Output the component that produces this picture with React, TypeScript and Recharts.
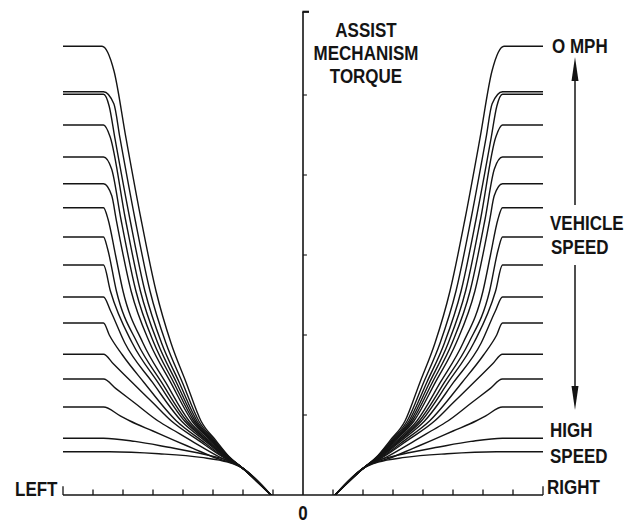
import React from 'react';
import { LineChart, Line, XAxis, YAxis, ReferenceLine } from 'recharts';

type Pt = [number, number];

// Left-hand family of torque curves (x = steering torque units, y = assist torque units)
const curve00: Pt[] = [[-8, 5.61], [-6.7, 5.61], [-6.3, 5.3], [-5.9, 4.46], [-5.4, 3.45], [-4.9, 2.55], [-4.4, 1.9], [-3.9, 1.41], [-3.4, 0.925], [-2.9, 0.68], [-2.45, 0.475], [-2.03, 0.34], [-1.07, 0]];
const curve01: Pt[] = [[-8, 5.04], [-6.65, 5.04], [-6.305, 4.89], [-6.1, 4.46], [-5.6, 3.45], [-5.1, 2.55], [-4.57, 1.9], [-4.024, 1.41], [-3.472, 0.925], [-2.942, 0.68], [-2.467, 0.475], [-2.03, 0.34], [-1.07, 0]];
const curve02: Pt[] = [[-8, 5.01], [-6.65, 5.01], [-6.46, 4.86], [-6.27, 4.46], [-5.77, 3.45], [-5.27, 2.55], [-4.715, 1.9], [-4.129, 1.41], [-3.533, 0.925], [-2.978, 0.68], [-2.481, 0.475], [-2.03, 0.34], [-1.07, 0]];
const curve03: Pt[] = [[-8, 4.625], [-6.65, 4.625], [-6.427, 4.475], [-5.92, 3.45], [-5.42, 2.55], [-4.842, 1.9], [-4.222, 1.41], [-3.587, 0.925], [-3.009, 0.68], [-2.494, 0.475], [-2.03, 0.34], [-1.07, 0]];
const curve04: Pt[] = [[-8, 4.225], [-6.65, 4.225], [-6.379, 4.075], [-6.07, 3.45], [-5.57, 2.55], [-4.97, 1.9], [-4.315, 1.41], [-3.641, 0.925], [-3.041, 0.68], [-2.507, 0.475], [-2.03, 0.34], [-1.07, 0]];
const curve05: Pt[] = [[-8, 3.89], [-6.65, 3.89], [-6.374, 3.74], [-6.23, 3.45], [-5.73, 2.55], [-5.106, 1.9], [-4.415, 1.41], [-3.699, 0.925], [-3.074, 0.68], [-2.521, 0.475], [-2.03, 0.34], [-1.07, 0]];
const curve06: Pt[] = [[-8, 3.59], [-6.65, 3.59], [-6.494, 3.44], [-6.25, 3.0], [-6.0, 2.55], [-5.335, 1.9], [-4.582, 1.41], [-3.796, 0.925], [-3.131, 0.68], [-2.544, 0.475], [-2.03, 0.34], [-1.07, 0]];
const curve07: Pt[] = [[-8, 3.225], [-6.65, 3.225], [-6.512, 3.075], [-6.22, 2.55], [-5.522, 1.9], [-4.718, 1.41], [-3.875, 0.925], [-3.177, 0.68], [-2.562, 0.475], [-2.03, 0.34], [-1.07, 0]];
const curve08: Pt[] = [[-8, 2.875], [-6.65, 2.875], [-6.42, 2.55], [-5.692, 1.9], [-4.842, 1.41], [-3.947, 0.925], [-3.219, 0.68], [-2.579, 0.475], [-2.03, 0.34], [-1.07, 0]];
const curve09: Pt[] = [[-8, 2.475], [-6.65, 2.475], [-6.413, 2.3], [-5.939, 1.9], [-5.022, 1.41], [-4.052, 0.925], [-3.28, 0.68], [-2.604, 0.475], [-2.03, 0.34], [-1.07, 0]];
const curve10: Pt[] = [[-8, 2.15], [-6.65, 2.15], [-6.457, 2.0], [-6.018, 1.75], [-5.307, 1.41], [-4.217, 0.925], [-3.377, 0.68], [-2.643, 0.475], [-2.03, 0.34], [-1.07, 0]];
const curve11: Pt[] = [[-8, 1.76], [-6.65, 1.76], [-6.323, 1.64], [-5.701, 1.41], [-4.995, 1.15], [-4.385, 0.925], [-3.472, 0.68], [-2.677, 0.475], [-2.03, 0.34], [-1.07, 0]];
const curve12: Pt[] = [[-8, 1.45], [-6.65, 1.45], [-6.235, 1.33], [-5.609, 1.15], [-4.828, 0.925], [-4.268, 0.8], [-3.73, 0.68], [-2.78, 0.475], [-2.03, 0.34], [-1.07, 0]];
const curve13: Pt[] = [[-8, 1.1], [-6.65, 1.1], [-6.092, 0.99], [-5.763, 0.925], [-5.003, 0.8], [-4.273, 0.68], [-3.649, 0.58], [-2.995, 0.475], [-2.03, 0.34], [-1.07, 0]];
const curve14: Pt[] = [[-8, 0.71], [-6.65, 0.71], [-5.6, 0.67], [-4.53, 0.6], [-3.3, 0.51], [-2.5, 0.43], [-2.03, 0.34], [-1.07, 0]];
const curve15: Pt[] = [[-8, 0.54], [-6.45, 0.54], [-4.8, 0.515], [-3.4, 0.47], [-2.5, 0.41], [-2.03, 0.34], [-1.07, 0]];

const leftCurves: Pt[][] = [curve00, curve01, curve02, curve03, curve04, curve05, curve06, curve07, curve08, curve09, curve10, curve11, curve12, curve13, curve14, curve15];

const xTicks = [-8, -7, -6, -5, -4, -3, -2, -1, 1, 2, 3, 4, 5, 6, 7, 8];
const yTicks = [1, 2, 3, 4, 5];
const X_DOMAIN: [number, number] = [-8, 8];
const Y_DOMAIN: [number, number] = [0, 6.05];
const AXIS_TOP = 6.04;

const INK = '#141414';

const toLeft = (c: Pt[]) => c.map(([x, y]) => ({ x, y }));
const toRight = (c: Pt[]) => c.map(([x, y]) => ({ x: -x, y })).reverse();

const FONT = '"Liberation Sans", Arial, Helvetica, sans-serif';

function Label({ x, y, text, anchor = 'start' }: { x: number; y: number; text: string; anchor?: 'start' | 'middle' | 'end' }) {
  return (
    <text
      x={0}
      y={0}
      transform={`translate(${x},${y}) scale(1,1.2)`}
      fontFamily={FONT}
      fontWeight={700}
      fontSize={17}
      textAnchor={anchor}
      fill={INK}
    >
      {text}
    </text>
  );
}

export default function App() {
  return (
    <div style={{ position: 'absolute', left: 0, top: 0, width: 641, height: 523, background: '#fff' }}>
      <LineChart width={641} height={523} margin={{ top: 11, right: 98, bottom: 28, left: 63 }}>
        <XAxis type="number" dataKey="x" domain={X_DOMAIN} hide allowDataOverflow />
        <YAxis type="number" dataKey="y" domain={Y_DOMAIN} hide allowDataOverflow />
        <ReferenceLine segment={[{ x: -8, y: 0 }, { x: 8, y: 0 }]} stroke={INK} strokeWidth={1.6} ifOverflow="visible" />
        <ReferenceLine segment={[{ x: 0, y: 0 }, { x: 0, y: AXIS_TOP }]} stroke={INK} strokeWidth={1.6} ifOverflow="visible" />
        <ReferenceLine segment={[{ x: -0.02, y: AXIS_TOP }, { x: 0.2, y: AXIS_TOP }]} stroke={INK} strokeWidth={2.2} ifOverflow="visible" />
        {xTicks.map((t) => (
          <ReferenceLine
            key={`xt${t}`}
            segment={[{ x: t, y: 0 }, { x: t, y: Math.abs(t) === 8 ? 0.11 : 0.07 }]}
            stroke={INK}
            strokeWidth={1.3}
            ifOverflow="visible"
          />
        ))}
        {yTicks.map((t) => (
          <ReferenceLine
            key={`yt${t}`}
            segment={[{ x: 0, y: t }, { x: 0.13, y: t }]}
            stroke={INK}
            strokeWidth={1.1}
            ifOverflow="visible"
          />
        ))}
        {leftCurves.map((c, i) => (
          <Line
            key={`L${i}`}
            data={toLeft(c)}
            dataKey="y"
            type="monotone"
            dot={false}
            activeDot={false}
            stroke={INK}
            strokeWidth={1.4}
            isAnimationActive={false}
          />
        ))}
        {leftCurves.map((c, i) => (
          <Line
            key={`R${i}`}
            data={toRight(c)}
            dataKey="y"
            type="monotone"
            dot={false}
            activeDot={false}
            stroke={INK}
            strokeWidth={1.4}
            isAnimationActive={false}
          />
        ))}
      </LineChart>
      <svg width={641} height={523} style={{ position: 'absolute', left: 0, top: 0, pointerEvents: 'none' }}>
        <Label x={366} y={37} text="ASSIST" anchor="middle" />
        <Label x={366} y={60} text="MECHANISM" anchor="middle" />
        <Label x={366} y={83} text="TORQUE" anchor="middle" />
        <Label x={552} y={53} text="O MPH" />
        <Label x={550} y={230} text="VEHICLE" />
        <Label x={551} y={254} text="SPEED" />
        <Label x={550} y={437} text="HIGH" />
        <Label x={550} y={463} text="SPEED" />
        <Label x={547} y={494} text="RIGHT" />
        <Label x={15} y={496} text="LEFT" />
        <Label x={303} y={520} text="0" anchor="middle" />
        <line x1={575} y1={78} x2={575} y2={205} stroke={INK} strokeWidth={1.5} />
        <polygon points="575,57 571.5,81 578.5,81" fill={INK} />
        <line x1={575} y1={265} x2={575} y2={390} stroke={INK} strokeWidth={1.5} />
        <polygon points="575,410 571.5,386 578.5,386" fill={INK} />
      </svg>
    </div>
  );
}
